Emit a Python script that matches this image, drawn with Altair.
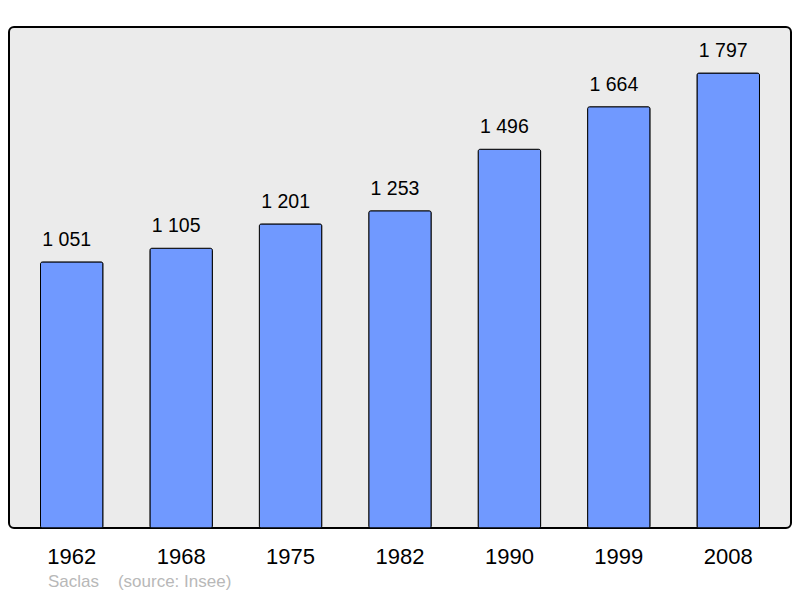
import altair as alt
import pandas as pd

years = ["1962", "1968", "1975", "1982", "1990", "1999", "2008"]
population = [1051, 1105, 1201, 1253, 1496, 1664, 1797]
value_labels = ["1 051", "1 105", "1 201", "1 253", "1 496", "1 664", "1 797"]

df = pd.DataFrame({"year": years, "pop": population, "label": value_labels})

FONT = "Liberation Sans"

x = alt.X(
    "year:N",
    sort=years,
    title=None,
    scale=alt.Scale(paddingInner=0.429, paddingOuter=0.288),
    axis=alt.Axis(
        labelAngle=0, domain=False, ticks=False, labelPadding=35,
        labelBaseline="alphabetic", labelFontSize=22, labelFont=FONT,
        labelColor="#000000",
    ),
)
y = alt.Y(
    "pop:Q",
    title=None,
    scale=alt.Scale(domain=[0, 1979], nice=False, zero=True),
    axis=None,
)

bars = alt.Chart(df).mark_bar(
    color="#7099ff", stroke="#000000", strokeWidth=1, cornerRadius=2
).encode(x=x, y=y)

texts = alt.Chart(df).mark_text(
    baseline="alphabetic", dy=-16, dx=-5, fontSize=19.5, font=FONT, color="#000000"
).encode(x=x, y=y, text="label:N")

chart = (
    (bars + texts)
    .properties(
        width=782,
        height=501,
        autosize=alt.AutoSizeParams(type="none"),
        padding={"left": 1, "top": 19, "right": 1, "bottom": 62},
        background="#ffffff",
        title=alt.TitleParams(
            text="Saclas\u00a0\u00a0\u00a0\u00a0(source: Insee)",
            orient="bottom",
            anchor="start",
            dx=39,
            offset=20,
            fontSize=17,
            fontWeight="normal",
            font=FONT,
            color="#b8b8b8",
            baseline="alphabetic",
        ),
    )
    .configure_view(fill="#ebebeb", stroke="#000000", strokeWidth=2, cornerRadius=5)
)

chart.save("out.html", embed_options={"renderer": "svg", "actions": False})
